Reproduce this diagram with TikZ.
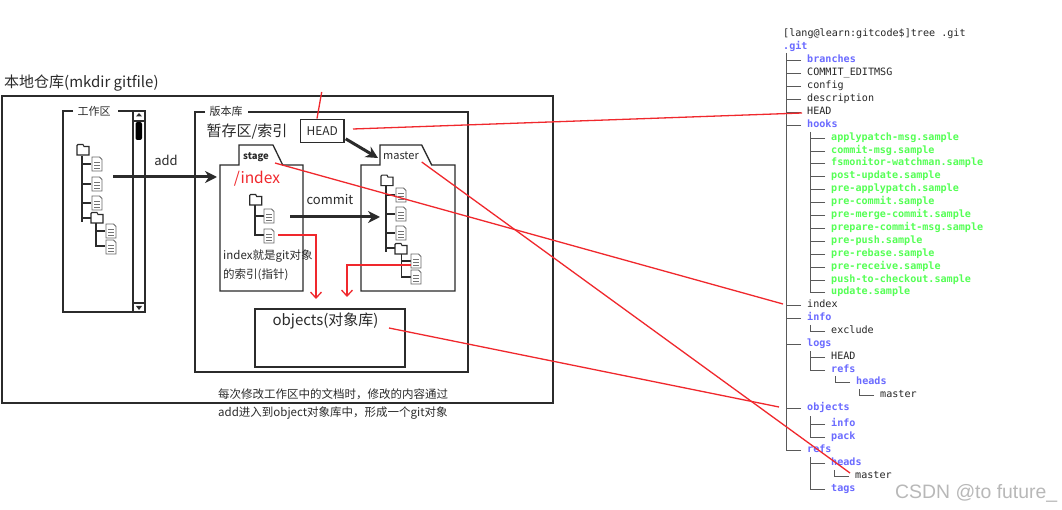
\documentclass[tikz,border=0pt]{standalone}
\usepackage{fontspec}
\setmainfont{Noto Sans CJK SC}
\setsansfont{Liberation Sans}
\setmonofont{DejaVu Sans Mono}
\usetikzlibrary{arrows.meta}
\definecolor{gitblue}{HTML}{6A6AFF}
\definecolor{gitgreen}{HTML}{55FF55}
\definecolor{ink}{HTML}{2B2B2B}
\definecolor{redline}{HTML}{F0282D}
\tikzset{
  frame/.style={draw=ink,line width=1.3pt},
  heavy/.style={draw=ink,line width=3pt,-{Stealth[length=12pt,width=12pt]}},
  redl/.style={draw=redline,line width=1.3pt},
  reda/.style={redl,-{Straight Barb[length=6pt,width=11pt]}},
  twig/.style={draw=ink,line width=1.2pt},
  treel/.style={draw=black!65,line width=.8pt},
  lab/.style={inner sep=0pt,text=ink},
  lefttxt/.style={lab,anchor=west},
  mono/.style={inner sep=0pt,anchor=west,text height=9.5pt,text depth=2pt,font=\fontsize{10.1}{12}\selectfont\ttfamily,text=black!85},
  bdir/.style={mono,font=\fontsize{10.1}{12}\selectfont\ttfamily\bfseries,text=gitblue},
  gfile/.style={mono,font=\fontsize{10.1}{12}\selectfont\ttfamily\bfseries,text=gitgreen},
  pics/dirico/.style={code={
    \draw[draw=ink,line width=1.1pt,fill=white] (-6,-4.5) -- (-6,5) -- (6,5) -- (6,-3.5) -- (1,-3.5) -- (0,-5.5) -- (-5,-5.5) -- cycle;}},
  pics/fileico/.style={code={
    \draw[draw=black!60,line width=.8pt,fill=white] (-5,-7) -- (2.5,-7) -- (5,-4.5) -- (5,7) -- (-5,7) -- cycle;
    \draw[draw=black!55,line width=.7pt] (-3,-2) -- (3,-2) (-3,1) -- (3,1) (-3,4) -- (3,4);}},
}
\newcommand{\levelone}[1]{\draw[treel] ([xshift=-6pt,yshift=-1pt]#1.west) -- ([xshift=-21pt,yshift=-1pt]#1.west);}
\begin{document}
\begin{tikzpicture}[x=1pt,y=-1pt]
\useasboundingbox (0,0) rectangle (1062,510);
\fill[white] (0,0) rectangle (1062,510);

% outer frame
\node[lefttxt,font=\fontsize{15}{16}\selectfont] (title) at (4,83) {本地仓库(mkdir gitfile)};
\draw[frame] (2,96) rectangle (553,403);

% working area
\draw[frame] (73,111) -- (63,111) -- (63,312) -- (133,312) -- (133,111) -- (118,111);
\node[lab,font=\fontsize{11}{12}\selectfont] (wk) at (94,111) {工作区};
\draw[frame] (133,111) rectangle (145,312);
\draw[frame] (133,121) -- (145,121) (133,303) -- (145,303);
\fill[ink] (136,116.5) -- (142,116.5) -- (139,113) -- cycle;
\fill[ink] (136,306) -- (142,306) -- (139,310) -- cycle;
\fill[black,rounded corners=2pt] (135.5,122) rectangle (142,140);

% repository frame
\draw[frame] (205,112) -- (195,112) -- (195,372) -- (468,372) -- (468,112) -- (248,112);
\node[lab,font=\fontsize{11}{12}\selectfont] (rp) at (226,111) {版本库};
\node[lab,font=\fontsize{15}{16}\selectfont] (stagearea) at (247,132) {暂存区/索引};

% stage folder
\draw[frame] (220,165) -- (239,165) -- (239,145) -- (273,145) -- (282.7,165) -- (303,165) -- (303,291) -- (220,291) -- cycle;
\node[lab,font=\fontsize{9.5}{11}\selectfont\bfseries] (stage) at (256,157) {stage};
\node[lab,text=redline,font=\fontsize{15.5}{17}\selectfont] (idx) at (257,179) {/index};

% master folder
\draw[frame] (361,165) -- (380,165) -- (380,145) -- (421.7,145) -- (431.7,165) -- (455,165) -- (455,291) -- (361,291) -- cycle;
\node[lab,font=\fontsize{11}{12}\selectfont] (master) at (401,156) {master};

% HEAD
\node[frame,lab,draw=ink,inner sep=0pt,minimum width=43.5pt,minimum height=23pt,font=\fontsize{12}{13}\selectfont] (head) at (322.3,130.7) {HEAD};

% objects
\node[frame,draw=ink,inner sep=0pt,minimum width=150pt,minimum height=58pt] (objbox) at (330,338) {};
\node[lab,font=\fontsize{15}{16}\selectfont] (objlab) at (325.5,321) {objects(对象库)};

% left tree
\draw[twig] (82,156) -- (82,222) (82,164) -- (91,164) (82,184) -- (91,184) (82,203) -- (91,203) (82,218) -- (92,218);
\draw[twig] (96,222) -- (96,246) -- (105,246) (96,231) -- (105,231);
\pic at (83,150) {dirico};
\pic at (97,164) {fileico};
\pic at (97,184) {fileico};
\pic at (97,203) {fileico};
\pic at (97,218) {dirico};
\pic at (111,231) {fileico};
\pic at (111,247) {fileico};

% stage tree
\draw[twig] (255,205) -- (255,235) -- (264,235) (255,216) -- (264,216);
\pic at (255.7,200) {dirico};
\pic at (269,216) {fileico};
\pic at (269,236) {fileico};

% master tree
\draw[twig] (386,186) -- (386,252) (386,195) -- (395,195) (386,214) -- (395,214) (386,233) -- (395,233) (386,248) -- (396,248);
\draw[twig] (401.7,253) -- (401.7,277) -- (411,277) (401.7,261) -- (411,261);
\pic at (387,180.7) {dirico};
\pic at (401,195) {fileico};
\pic at (401,214) {fileico};
\pic at (401,233) {fileico};
\pic at (401,249) {dirico};
\pic at (416,261) {fileico};
\pic at (416,277) {fileico};

% texts
\node[lab,font=\fontsize{13}{14}\selectfont] (addl) at (166,160) {add};
\node[lab,font=\fontsize{13}{14}\selectfont] (comml) at (330,200) {commit};
\node[lefttxt,font=\fontsize{11.5}{13}\selectfont] (n1) at (223,256) {index就是git对象};
\node[lefttxt,font=\fontsize{11.5}{13}\selectfont] (n2) at (223,275) {的索引(指针)};
\node[lefttxt,font=\fontsize{11.5}{13}\selectfont] (b1) at (218,394) {每次修改工作区中的文档时，修改的内容通过};
\node[lefttxt,font=\fontsize{11.5}{13}\selectfont] (b2) at (218,413) {add进入到object对象库中，形成一个git对象};

% heavy arrows
\coordinate (adds) at (113,177);
\coordinate (adde) at (217,177);
\coordinate (coms) at (290,217);
\coordinate (come) at (380,217);
\coordinate (mtip) at (378,158);
\draw[heavy] (adds) -- (adde);
\draw[heavy] (coms) -- (come);
\draw[heavy] (head.south east) ++(1,-4) -- (mtip);

% file tree
\node[mono] (cmd) at (783,33) {[lang@learn:gitcode\$]tree .git};
\node[bdir] (git) at (783,46) {.git};
\node[bdir] (branches) at (807,59) {branches};
\node[mono] (commit) at (807,72) {COMMIT\_EDITMSG};
\node[mono] (config) at (807,85) {config};
\node[mono] (descr) at (807,98) {description};
\node[mono] (thead) at (807,111) {HEAD};
\node[bdir] (hooks) at (807,124) {hooks};
\node[gfile] (g1) at (831,137) {applypatch-msg.sample};
\node[gfile] (g2) at (831,150) {commit-msg.sample};
\node[gfile] (g3) at (831,162) {fsmonitor-watchman.sample};
\node[gfile] (g4) at (831,175) {post-update.sample};
\node[gfile] (g5) at (831,188) {pre-applypatch.sample};
\node[gfile] (g6) at (831,201) {pre-commit.sample};
\node[gfile] (g7) at (831,214) {pre-merge-commit.sample};
\node[gfile] (g8) at (831,227) {prepare-commit-msg.sample};
\node[gfile] (g9) at (831,240) {pre-push.sample};
\node[gfile] (g10) at (831,253) {pre-rebase.sample};
\node[gfile] (g11) at (831,266) {pre-receive.sample};
\node[gfile] (g12) at (831,279) {push-to-checkout.sample};
\node[gfile] (g13) at (831,291) {update.sample};
\node[mono] (index) at (807,304) {index};
\node[bdir] (info) at (807,317) {info};
\node[mono] (excl) at (831,330) {exclude};
\node[bdir] (logs) at (807,343) {logs};
\node[mono] (lhead) at (831,356) {HEAD};
\node[bdir] (lrefs) at (831,369) {refs};
\node[bdir] (lheads) at (856,381) {heads};
\node[mono] (lmaster) at (880,394) {master};
\node[bdir] (objects) at (807,407) {objects};
\node[bdir] (oinfo) at (831,423) {info};
\node[bdir] (opack) at (831,436) {pack};
\node[bdir] (refs) at (807,449) {refs};
\node[bdir] (rheads) at (831,462) {heads};
\node[mono] (rmaster) at (855,475) {master};
\node[bdir] (rtags) at (831,488) {tags};

\foreach \n in {branches,commit,config,descr,thead,hooks,index,info,logs,objects,refs}{\levelone{\n}}
\foreach \n in {g1,g2,g3,g4,g5,g6,g7,g8,g9,g10,g11,g12,g13,excl,lhead,lrefs,oinfo,opack,rheads,rtags}{\levelone{\n}}
\foreach \n in {lheads,lmaster,rmaster}{\levelone{\n}}
\draw[treel] ([xshift=-21pt,yshift=-1pt]branches.west) ++(0,-7) -- ([xshift=-21pt,yshift=-1pt]refs.west);
\draw[treel] ([xshift=-21pt,yshift=-1pt]g1.west) ++(0,-6) -- ([xshift=-21pt,yshift=-1pt]g13.west);
\draw[treel] ([xshift=-21pt,yshift=-1pt]excl.west) ++(0,-6) -- ([xshift=-21pt,yshift=-1pt]excl.west);
\draw[treel] ([xshift=-21pt,yshift=-1pt]lhead.west) ++(0,-6) -- ([xshift=-21pt,yshift=-1pt]lrefs.west);
\draw[treel] ([xshift=-21pt,yshift=-1pt]lheads.west) ++(0,-6) -- ([xshift=-21pt,yshift=-1pt]lheads.west);
\draw[treel] ([xshift=-21pt,yshift=-1pt]lmaster.west) ++(0,-6) -- ([xshift=-21pt,yshift=-1pt]lmaster.west);
\draw[treel] ([xshift=-21pt,yshift=-1pt]oinfo.west) ++(0,-8) -- ([xshift=-21pt,yshift=-1pt]opack.west);
\draw[treel] ([xshift=-21pt,yshift=-1pt]rheads.west) ++(0,-6) -- ([xshift=-21pt,yshift=-1pt]rtags.west);
\draw[treel] ([xshift=-21pt,yshift=-1pt]rmaster.west) ++(0,-6) -- ([xshift=-21pt,yshift=-1pt]rmaster.west);

% red connectors
\coordinate (topfree) at (321.7,92);
\coordinate (hs) at (353,129);
\coordinate (he) at (802,113);
\coordinate (ss) at (275,163);
\coordinate (se) at (783,304);
\coordinate (ms) at (421.7,162);
\coordinate (me) at (850,473);
\coordinate (os) at (389,328);
\coordinate (oe) at (779,407);
\coordinate (ia) at (278,235);
\coordinate (ib) at (316,235);
\coordinate (ic) at (316,299);
\coordinate (ma) at (411,265);
\coordinate (mb) at (347,265);
\coordinate (mc) at (347,297);
\draw[redl] (topfree) -- (head.north -| 317,0);
\draw[redl] (hs) -- (he);
\draw[redl] (ss) -- (se);
\draw[redl] (ms) -- (me);
\draw[redl] (os) -- (oe);
\draw[reda] (ia) -- (ib) -- (ic);
\draw[reda] (ma) -- (mb) -- (mc);

% watermark
\node[lefttxt,text=black!28,font=\sffamily\fontsize{19.4}{21}\selectfont] (wm) at (895,493) {CSDN @to future\_};
\end{tikzpicture}
\end{document}
